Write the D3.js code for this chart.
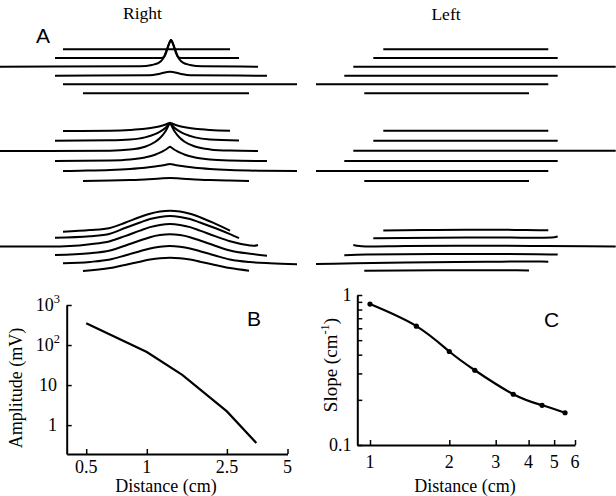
<!DOCTYPE html>
<html><head><meta charset="utf-8">
<script src="https://cdn.jsdelivr.net/npm/d3@7"></script>
<style>
html,body{margin:0;padding:0;background:#fff;}
svg text{fill:#000;}
</style></head>
<body>
<svg id="chart" width="616" height="496"></svg>
<script>
// ---------- DATA ----------
// Panel A: traces, points = [position (mm, rel. to stimulus), deflection (mV units)]
const rightTop = [
  [[-10.7,0],[6.0,0]],
  [[-11.5,0],[-0.9,0],[-0.55,1.5],[-0.4,5],[0.05,17.5],[0.1,18],[0.15,17.5],[0.6,5],[0.75,1.5],[1.1,0],[6.9,0]],
  [[-17,0],[-3,0.5],[-1.8,1.8],[-1.1,4],[-0.7,8],[0.05,26],[0.1,26.7],[0.15,26],[0.9,8],[1.3,4],[2,1.8],[3.2,0.5],[8.8,0]],
  [[-11.5,0],[-2,0.4],[-1,2],[0,4],[1,2],[2,0.4],[9.7,0]],
  [[-10.7,0],[12.7,0]],
  [[-8.7,0],[7.9,0]]
];
const rightMid = [
  [[-10.7,0],[-6,0.3],[-4,1],[-2.5,2.2],[-1.5,3.7],[-1,4.8],[-0.5,6.3],[-0.05,8.1],[0,8.3],[0.05,8.1],[0.5,6.3],[1,4.8],[1.5,3.7],[2.5,2.2],[4,1],[6,0.3]],
  [[-11.5,0],[-6,0.4],[-4,1.2],[-2.5,3.3],[-1.5,6.5],[-1,9],[-0.5,12.5],[-0.05,17.2],[0,17.7],[0.05,17.2],[0.5,12.5],[1,9],[1.5,6.5],[2.5,3.3],[4,1.2],[6.9,0.2]],
  [[-17,0],[-6,0.3],[-4,1.4],[-2.5,4.3],[-1.5,9],[-1,13],[-0.5,19],[-0.05,27.2],[0,28],[0.05,27.2],[0.5,19],[1,13],[1.5,9],[2.5,4.5],[4,1.6],[6,0.4],[8.8,0]],
  [[-11.5,0],[-6,0.5],[-4,1.5],[-2.5,3.6],[-1.5,6.2],[-1,8.3],[-0.5,11],[-0.05,14],[0,14.3],[0.05,14],[0.5,11],[1,8.3],[1.5,6.2],[2.5,3.6],[4,1.5],[6,0.5],[9.7,0]],
  [[-10.7,0],[-9,0.3],[-6,1],[-4,2],[-2.5,3.2],[-1.5,4.4],[-1,5.2],[-0.5,6],[0,7],[0.5,6],[1,5.2],[1.5,4.4],[2.5,3.2],[4,2],[6,1],[9,0.3],[12.7,0]],
  [[-8.7,0],[-6,0.4],[-4,1],[-2.5,1.6],[-1,2.5],[0,3],[1,2.5],[2.5,1.6],[4,1],[6,0.4],[7.9,0]]
];
const rightBot = [
  [[-10.7,0],[-8,1.6],[-6,3.8],[-4.5,9],[-3,14.7],[-2,18],[-1,20.2],[0,21],[1,20.2],[2,18],[3,14.5],[4.3,9],[6,1]],
  [[-11.5,0],[-8,1.5],[-6,4],[-4.5,9.7],[-3,15.2],[-2,18.7],[-1,20.8],[0,21.7],[1,20.8],[2,18.7],[3,15.2],[4.5,9.7],[6,3.6],[6.9,-0.5]],
  [[-17,-0.5],[-12,-0.5],[-10,0],[-8,1.8],[-6,4.8],[-4.5,9.9],[-3,15.4],[-2,18.9],[-1,21.1],[0,22],[1,21.1],[2,18.9],[3,15.4],[4.5,9.9],[6,4.8],[8,0.6],[8.4,0.2],[8.8,1]],
  [[-11.5,0],[-8,1.7],[-6,4.5],[-4.5,9.3],[-3,14.5],[-2,17.8],[-1,19.9],[0,20.7],[1,19.9],[2,17.8],[3,14.5],[4.5,9.3],[6,4.5],[8,1.2],[9.7,-0.7]],
  [[-10.7,0],[-8,1.4],[-6,3.8],[-4.5,7.8],[-3,12.1],[-2,14.9],[-1,16.6],[0,17.3],[1,16.6],[2,14.9],[3,12.1],[4.5,7.8],[6,3.8],[8,1.2],[10,0],[12.7,-1]],
  [[-8.7,0],[-6,2.9],[-4.5,6],[-3,9.3],[-2,11.4],[-1,12.8],[0,13.3],[1,12.8],[2,11.4],[3,9.3],[4.5,6],[6,2.9],[7.9,0.3]]
];
const leftTop = [
  [[-10.27,0],[6.23,0]],
  [[-11.27,0],[7.17,0]],
  [[-13.27,0],[12.97,0]],
  [[-14.17,0],[7.17,0]],
  [[-17,0],[6.23,0]],
  [[-12.17,0],[4.3,0]]
];
const leftMid = [
  [[-10.27,0.3],[6.23,0.3]],
  [[-11.27,0],[7.17,0]],
  [[-13.27,0.3],[12.97,0.3]],
  [[-14.17,0],[7.17,0]],
  [[-17,0],[6.23,0]],
  [[-12.17,0],[4.3,0]]
];
const leftBot = [
  [[-10.27,1.3],[-5,1.8],[0,2],[4,1.7],[6.23,1.4]],
  [[-11.27,-0.5],[-5,0],[0,0.2],[5,0],[6.6,0.2],[7.17,1.2]],
  [[-13.27,1],[-12.9,0.3],[-12,-0.5],[-8,0],[0,0.3],[6,0],[12.97,-0.5]],
  [[-14.17,-0.2],[-12,0.6],[-5,1],[0,1],[5,0.8],[7.17,0.5]],
  [[-17,-0.7],[-13,0],[-8,0.8],[0,1.5],[4,1.8],[6.23,1.6]],
  [[-12.17,0.2],[-5,0.8],[0,0.8],[4.3,0.5]]
];

// Panel B: amplitude vs distance
const ampDist = [0.5, 1, 1.5, 2.5, 3.5];
const ampVal  = [350, 67, 18, 2.2, 0.36];
const ampXTicks = [0.5, 1, 2.5, 5];
const ampXLabels = ["0.5", "1", "2.5", "5"];
const ampYTicks = [1, 10, 100, 1000];
const ampYLabels = [["1",""], ["10",""], ["10","2"], ["10","3"]];

// Panel C: slope vs distance
const slopeDist = [1, 1.5, 2, 2.5, 3.5, 4.5, 5.5];
const slopeVal  = [0.87, 0.62, 0.42, 0.315, 0.218, 0.184, 0.164];
const slopeXTicks = [1, 2, 3, 4, 5, 6];
const slopeYTicks = [0.1, 0.2, 0.3, 0.4, 0.5, 0.6, 0.7, 0.8, 0.9, 1];
const slopeYLabels = {0.1: "0.1", 1: "1"};

// ---------- LAYOUT ----------
const svg = d3.select("#chart");
const SERIF = "'Liberation Serif','Times New Roman',serif";
const SANS = "'Liberation Sans',Arial,sans-serif";

const xRight = d3.scaleLinear().domain([-17, 13]).range([0, 300]);
const xLeft  = d3.scaleLinear().domain([-17, 13]).range([316, 616]);
const defl = d3.scaleLinear().domain([0, 10]).range([0, -10]);
const groupRows = {
  top: [49.3, 58, 66.7, 75.7, 84.3, 93.3],
  mid: [131, 140.7, 151, 161, 171, 181],
  bot: [231.7, 237.7, 246, 255, 263.3, 271]
};

function drawGroup(traces, xs, rows) {
  const g = svg.append("g");
  traces.forEach((tr, i) => {
    const line = d3.line()
      .x(d => xs(d[0]))
      .y(d => rows[i] + defl(d[1]))
      .curve(d3.curveMonotoneX);
    g.append("path").attr("d", line(tr))
      .attr("fill", "none").attr("stroke", "#000")
      .attr("stroke-width", 2).attr("stroke-linejoin", "round");
  });
}
drawGroup(rightTop, xRight, groupRows.top);
drawGroup(rightMid, xRight, groupRows.mid);
drawGroup(rightBot, xRight, groupRows.bot);
drawGroup(leftTop, xLeft, groupRows.top);
drawGroup(leftMid, xLeft, groupRows.mid);
drawGroup(leftBot, xLeft, groupRows.bot);

svg.append("text").attr("x", 142.5).attr("y", 19).attr("text-anchor", "middle")
  .attr("font-family", SERIF).attr("font-size", 17.5).text("Right");
svg.append("text").attr("x", 446).attr("y", 19.5).attr("text-anchor", "middle")
  .attr("font-family", SERIF).attr("font-size", 17.5).text("Left");
svg.append("text").attr("x", 36).attr("y", 42.7)
  .attr("font-family", SANS).attr("font-size", 21).text("A");

// ---------- Panel B ----------
const bx = d3.scaleLog().domain([0.4, 5]).range([66.7, 287.5]);
const by = d3.scaleLog().domain([0.19, 1000]).range([454, 305]);

function styleAxis(g) {
  g.select(".domain").attr("stroke", "#000").attr("stroke-width", 2);
  g.selectAll(".tick line").attr("stroke", "#000").attr("stroke-width", 1.5);
  g.selectAll(".tick text").remove();
}
svg.append("g").attr("transform", "translate(0,454)")
  .call(d3.axisBottom(bx).tickValues(ampXTicks).tickSizeInner(-5).tickSizeOuter(0))
  .call(styleAxis);
svg.append("g").attr("transform", "translate(66.7,0)")
  .call(d3.axisLeft(by).tickValues(ampYTicks).tickSizeInner(-5).tickSizeOuter(0))
  .call(styleAxis);

ampXTicks.forEach((t, i) => {
  svg.append("text").attr("x", bx(t)).attr("y", 473).attr("text-anchor", "middle")
    .attr("font-family", SERIF).attr("font-size", 18).text(ampXLabels[i]);
});
ampYTicks.forEach((t, i) => {
  const [base, sup] = ampYLabels[i];
  const tx = svg.append("text").attr("x", sup ? 60 : 57).attr("y", by(t) + 6)
    .attr("text-anchor", "end").attr("font-family", SERIF).attr("font-size", 18);
  tx.append("tspan").text(base);
  if (sup) tx.append("tspan").attr("font-size", 12.5).attr("dy", -8).text(sup);
});

svg.append("path")
  .attr("d", d3.line().x((d, i) => bx(ampDist[i])).y((d, i) => by(ampVal[i]))(ampDist))
  .attr("fill", "none").attr("stroke", "#000").attr("stroke-width", 2.2);

svg.append("text").attr("transform", "translate(22,388) rotate(-90)")
  .attr("text-anchor", "middle").attr("font-family", SERIF).attr("font-size", 18)
  .text("Amplitude (mV)");
svg.append("text").attr("x", 166).attr("y", 492).attr("text-anchor", "middle")
  .attr("font-family", SERIF).attr("font-size", 18).text("Distance (cm)");
svg.append("text").attr("x", 247).attr("y", 326)
  .attr("font-family", SANS).attr("font-size", 21).text("B");

// ---------- Panel C ----------
const cx = d3.scaleLog().domain([0.895, 6]).range([357.3, 575]);
const cy = d3.scaleLog().domain([0.1, 1]).range([445, 295]);

svg.append("g").attr("transform", "translate(0,445)")
  .call(d3.axisBottom(cx).tickValues(slopeXTicks).tickSizeInner(-5).tickSizeOuter(0))
  .call(styleAxis);
svg.append("g").attr("transform", "translate(357.3,0)")
  .call(d3.axisLeft(cy).tickValues(slopeYTicks).tickSizeInner(-5).tickSizeOuter(0))
  .call(styleAxis);

slopeXTicks.forEach(t => {
  svg.append("text").attr("x", cx(t)).attr("y", 467.5).attr("text-anchor", "middle")
    .attr("font-family", SERIF).attr("font-size", 18).text(String(t));
});
slopeYTicks.filter(t => slopeYLabels[t]).forEach(t => {
  svg.append("text").attr("x", 351.5).attr("y", cy(t) + 6).attr("text-anchor", "end")
    .attr("font-family", SERIF).attr("font-size", 18).text(slopeYLabels[t]);
});

const slopePts = slopeDist.map((d, i) => [cx(d), cy(slopeVal[i])]);
svg.append("path").attr("d", d3.line().curve(d3.curveNatural)(slopePts))
  .attr("fill", "none").attr("stroke", "#000").attr("stroke-width", 2.2);
svg.append("g").selectAll("circle").data(slopePts).join("circle")
  .attr("cx", d => d[0]).attr("cy", d => d[1]).attr("r", 2.6).attr("fill", "#000");

const sl = svg.append("text").attr("transform", "translate(337,365) rotate(-90)")
  .attr("text-anchor", "middle").attr("font-family", SERIF).attr("font-size", 19);
sl.append("tspan").text("Slope (cm");
sl.append("tspan").attr("font-size", 12.5).attr("dy", -8).text("-1");
sl.append("tspan").attr("dy", 8).text(")");
svg.append("text").attr("x", 465).attr("y", 492).attr("text-anchor", "middle")
  .attr("font-family", SERIF).attr("font-size", 18).text("Distance (cm)");
svg.append("text").attr("x", 544).attr("y", 326.7)
  .attr("font-family", SANS).attr("font-size", 21).text("C");
</script>
</body></html>
